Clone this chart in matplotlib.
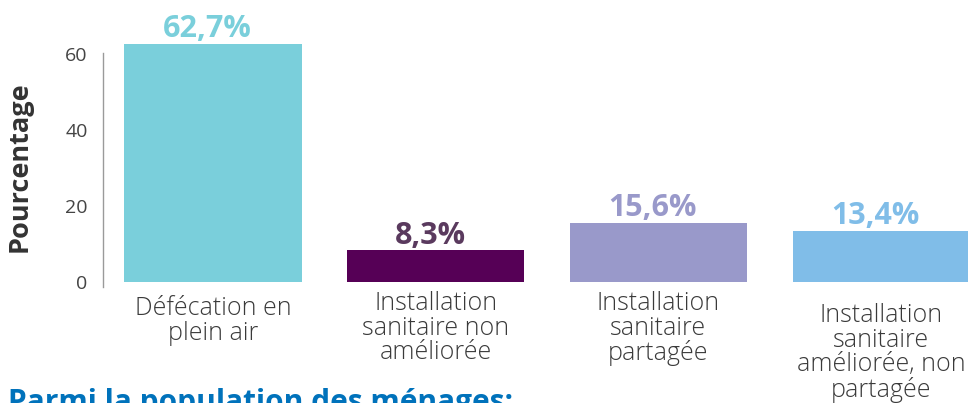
import matplotlib
matplotlib.use("Agg")
import matplotlib.pyplot as plt
from matplotlib import transforms

categories = ["Défécation en\nplein air",
              "Installation\nsanitaire non\naméliorée",
              "Installation\nsanitaire\npartagée",
              "Installation\nsanitaire\naméliorée, non\npartagée"]
values = [62.7, 8.3, 15.6, 13.4]
value_labels = ["62,7%", "8,3%", "15,6%", "13,4%"]
yticks = [0, 20, 40, 60]
ylabel = "Pourcentage"
footer = "Parmi la population des ménages:"

bar_colors = ["#7ACFDB", "#560056", "#9999CA", "#80BDE8"]
label_colors = ["#7ACFDB", "#5A3A5E", "#9999CA", "#80BDE8"]
label_top_px = [296, 291, 291, 303]  # top of category label, pixels from top

W, H = 968, 403
fig = plt.figure(figsize=(W / 100, H / 100), dpi=100)
plt.rcParams['font.family'] = ['Open Sans', 'DejaVu Sans']

ax_left = 103 / W
ax_bottom = (H - 290) / H
ax = fig.add_axes([ax_left, ax_bottom, 1 - ax_left, 290 / H])

x = list(range(len(values)))
ax.bar(x, values, width=0.795, color=bar_colors, zorder=2)
ax.set_xlim(-0.494, 3.39)
ax.set_ylim(-2.1, 74.2)

for s in ["top", "right", "bottom"]:
    ax.spines[s].set_visible(False)
ax.spines["left"].set_bounds(-1.3, 60.3)
ax.spines["left"].set_color("#9a9a9a")
ax.spines["left"].set_linewidth(1.0)

ax.set_yticks(yticks)
ax.set_yticklabels([str(t) for t in yticks], fontsize=14, color="#444444")
ax.tick_params(axis="y", length=0, pad=11)
ax.set_xticks([])

ax.set_ylabel(ylabel, fontsize=19.5, fontweight="bold", color="#333333")
ax.yaxis.set_label_coords(-0.081, 0.424)

for xi, v, lab, c in zip(x, values, value_labels, label_colors):
    ax.annotate(lab, (xi, v), xytext=(-4, 5), textcoords="offset points",
                ha="center", va="baseline", fontsize=22, fontweight="bold", color=c)

trans = transforms.blended_transform_factory(ax.transData, fig.transFigure)
for xi, cat, top in zip(x, categories, label_top_px):
    ax.text(xi, (H - top) / H, cat, transform=trans, ha="center", va="top",
            fontsize=18, fontweight="light", color="#3a3a3a", linespacing=0.98)

fig.text(8 / W, (H - 411) / H, footer, ha="left", va="baseline",
         fontsize=21.5, fontweight="bold", color="#0072BB")

fig.savefig("out.png", dpi=100)
